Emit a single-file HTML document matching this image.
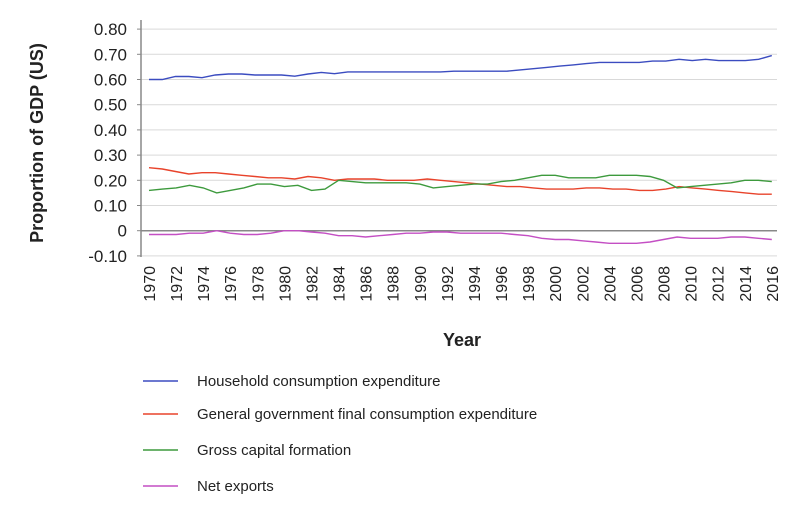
<!DOCTYPE html>
<html><head><meta charset="utf-8"><style>
body{margin:0;background:#fff;}
svg{display:block;font-family:"Liberation Sans",sans-serif;}
</style></head><body>
<svg id="s" width="810" height="512" xmlns="http://www.w3.org/2000/svg"></svg>
<script>
var s=document.getElementById('s');
var h='';
function Y(v){return 230.7-252*v;}
function X(i){return 149+i*13.54;}
var ticks=[0.8,0.7,0.6,0.5,0.4,0.3,0.2,0.1,0,-0.1];
ticks.forEach(function(t){
 var y=Y(t);
 h+='<line x1="141" x2="777" y1="'+y+'" y2="'+y+'" stroke="'+(t==0?'#888':'#d9d9d9')+'" stroke-width="'+(t==0?1.5:1)+'"/>';
 h+='<line x1="137" x2="141" y1="'+y+'" y2="'+y+'" stroke="#888"/>';
 var lab=t==0?'0':t.toFixed(2);
 h+='<text x="127" y="'+(y+6)+'" text-anchor="end" font-size="17" fill="#222">'+lab+'</text>';
});
h+='<line x1="141" x2="141" y1="20" y2="257" stroke="#888" stroke-width="1.5"/>';
for(var yr=1970;yr<=2016;yr+=2){
 var x=X(yr-1970);
 h+='<text transform="translate('+(x+6)+',266) rotate(-90)" text-anchor="end" font-size="16" fill="#222">'+yr+'</text>';
}
h+='<text x="462" y="346" text-anchor="middle" font-size="18" font-weight="bold" fill="#222">Year</text>';
h+='<text transform="translate(43,143) rotate(-90)" text-anchor="middle" font-size="18" font-weight="bold" fill="#222">Proportion of GDP (US)</text>';
var D={
'#3b4cc0':[.60,.60,.612,.612,.607,.618,.622,.622,.618,.618,.618,.613,.622,.628,.623,.63,.63,.63,.63,.63,.63,.63,.63,.633,.633,.633,.633,.633,.638,.643,.648,.653,.658,.663,.668,.668,.668,.668,.673,.673,.68,.675,.68,.675,.675,.675,.68,.695],
'#e8432b':[.25,.245,.235,.225,.23,.23,.225,.22,.215,.21,.21,.205,.215,.21,.20,.205,.205,.205,.20,.20,.20,.205,.20,.195,.19,.185,.18,.175,.175,.17,.165,.165,.165,.17,.17,.165,.165,.16,.16,.165,.175,.17,.165,.16,.155,.15,.145,.145],
'#3d9a3d':[.16,.165,.17,.18,.17,.15,.16,.17,.185,.185,.175,.18,.16,.165,.20,.195,.19,.19,.19,.19,.185,.17,.175,.18,.185,.185,.195,.20,.21,.22,.22,.21,.21,.21,.22,.22,.22,.215,.20,.17,.175,.18,.185,.19,.20,.20,.195],
'#c44fc4':[-.015,-.015,-.015,-.01,-.01,0,-.01,-.015,-.015,-.01,0,0,-.005,-.01,-.02,-.02,-.025,-.02,-.015,-.01,-.01,-.005,-.005,-.01,-.01,-.01,-.01,-.015,-.02,-.03,-.035,-.035,-.04,-.045,-.05,-.05,-.05,-.045,-.035,-.025,-.03,-.03,-.03,-.025,-.025,-.03,-.035]
};
for(var c in D){
 var a=D[c],p=[];
 var n=a.length;
 for(var i=0;i<n;i++){p.push(X(i*46/(n-1)).toFixed(1)+','+Y(a[i]).toFixed(1));}
 h+='<polyline points="'+p.join(' ')+'" fill="none" stroke="'+c+'" stroke-width="1.4"/>';
}
var L=[['#3b4cc0','Household consumption expenditure',381],['#e8432b','General government final consumption expenditure',414],['#3d9a3d','Gross capital formation',450],['#c44fc4','Net exports',486]];
L.forEach(function(l){
 h+='<line x1="143" x2="178" y1="'+l[2]+'" y2="'+l[2]+'" stroke="'+l[0]+'" stroke-width="1.4"/>';
 h+='<text x="197" y="'+(l[2]+5)+'" font-size="15" fill="#222">'+l[1]+'</text>';
});
s.innerHTML=h;
</script>
</body></html>
